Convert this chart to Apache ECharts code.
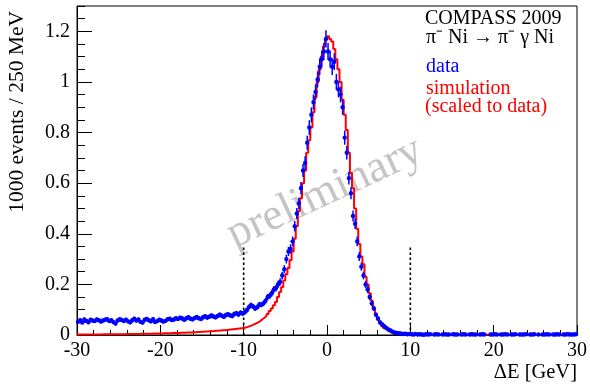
<!DOCTYPE html>
<html>
<head>
<meta charset="utf-8">
<script src="https://cdn.jsdelivr.net/npm/echarts@6/dist/echarts.min.js"></script>
<style>
html,body{margin:0;padding:0;background:#fff;}
#chart{width:590px;height:384px;}
</style>
</head>
<body>
<div id="chart"></div>
<script>
// ---- data (bins of 250 MeV from -30 to 30 GeV) ----
const xStart = -30;
const binWidth = 0.25;
const xTickLabels = [-30, -20, -10, 0, 10, 20, 30];
const yTickLabels = [0, 0.2, 0.4, 0.6, 0.8, 1, 1.2];

const dataValues = [
  0.052, 0.058, 0.049, 0.061, 0.056, 0.050, 0.060, 0.057,
  0.055, 0.061, 0.058, 0.053, 0.057, 0.060, 0.062, 0.055,
  0.058, 0.051, 0.045, 0.057, 0.062, 0.059, 0.055, 0.060,
  0.054, 0.050, 0.058, 0.064, 0.057, 0.061, 0.052, 0.049,
  0.060, 0.063, 0.058, 0.054, 0.062, 0.051, 0.055, 0.060,
  0.057, 0.053, 0.056, 0.062, 0.064, 0.059, 0.061, 0.066,
  0.063, 0.068, 0.065, 0.060, 0.066, 0.070, 0.064, 0.062,
  0.067, 0.071, 0.066, 0.063, 0.070, 0.074, 0.069, 0.072,
  0.077, 0.073, 0.070, 0.075, 0.080, 0.076, 0.072, 0.079,
  0.082, 0.078, 0.075, 0.083, 0.086, 0.081, 0.088, 0.085,
  0.090, 0.098, 0.110, 0.118, 0.113, 0.105, 0.110, 0.120,
  0.120, 0.125, 0.135, 0.150, 0.155, 0.165, 0.180, 0.185,
  0.200, 0.210, 0.235, 0.260, 0.300, 0.330, 0.340, 0.370,
  0.430, 0.480, 0.520, 0.580, 0.650, 0.680, 0.760, 0.820,
  0.870, 0.920, 0.960, 1.010, 1.060, 1.090, 1.120, 1.170,
  1.120, 1.090, 1.060, 1.080, 1.000, 0.970, 0.950, 0.900,
  0.780, 0.720, 0.620, 0.560, 0.470, 0.440, 0.370, 0.310,
  0.270, 0.235, 0.200, 0.180, 0.150, 0.125, 0.105, 0.080,
  0.065, 0.050, 0.042, 0.035, 0.028, 0.022, 0.018, 0.013,
  0.010, 0.008, 0.007, 0.006, 0.004, 0.005, 0.003, 0.004,
  0.003, 0.002, 0.004, 0.002, 0.003, 0.002, 0.001, 0.003,
  0.002, 0.003, null, 0.002, 0.003, 0.002, null, 0.002,
  0.003, 0.002, 0.002, null, 0.003, 0.002, 0.002, null,
  0.002, 0.003, 0.002, null, 0.002, 0.003, 0.002, 0.002,
  null, 0.002, 0.003, 0.002, null, null, 0.002, 0.002,
  0.003, 0.002, null, 0.002, 0.002, 0.003, 0.002, null,
  0.002, 0.002, 0.003, null, 0.002, 0.002, 0.002, 0.003,
  null, 0.002, 0.002, 0.003, null, 0.002, null, 0.002,
  0.002, 0.003, 0.002, null, 0.002, 0.002, 0.003, 0.002,
  null, 0.002, 0.002, 0.003, 0.002, 0.002, 0.002, 0.003
];

const simValues = [
  0.002, 0.002, 0.002, 0.002, 0.002, 0.002, 0.002, 0.002,
  0.002, 0.002, 0.002, 0.002, 0.003, 0.003, 0.003, 0.003,
  0.003, 0.003, 0.003, 0.003, 0.003, 0.003, 0.003, 0.004,
  0.004, 0.004, 0.004, 0.004, 0.004, 0.004, 0.005, 0.005,
  0.005, 0.005, 0.005, 0.005, 0.006, 0.006, 0.006, 0.006,
  0.006, 0.007, 0.007, 0.007, 0.007, 0.008, 0.008, 0.008,
  0.008, 0.009, 0.009, 0.009, 0.010, 0.010, 0.010, 0.011,
  0.011, 0.012, 0.012, 0.013, 0.013, 0.014, 0.014, 0.015,
  0.015, 0.016, 0.017, 0.017, 0.018, 0.019, 0.019, 0.020,
  0.021, 0.022, 0.023, 0.024, 0.025, 0.026, 0.027, 0.028,
  0.030, 0.032, 0.035, 0.038, 0.042, 0.046, 0.050, 0.055,
  0.062, 0.068, 0.075, 0.083, 0.095, 0.105, 0.118, 0.130,
  0.150, 0.170, 0.190, 0.215, 0.240, 0.265, 0.295, 0.330,
  0.380, 0.430, 0.490, 0.540, 0.600, 0.650, 0.720, 0.770,
  0.820, 0.880, 0.940, 1.000, 1.050, 1.100, 1.140, 1.170,
  1.180, 1.170, 1.160, 1.130, 1.090, 1.050, 1.000, 0.930,
  0.870, 0.810, 0.720, 0.640, 0.580, 0.500, 0.420, 0.360,
  0.310, 0.280, 0.230, 0.200, 0.165, 0.135, 0.105, 0.080,
  0.060, 0.045, 0.035, 0.027, 0.020, 0.015, 0.011, 0.008,
  0.006, 0.005, 0.004, 0.003, 0.002, 0.002, 0.001, 0.001,
  0.001, 0.001, 0.001, 0.001, 0.001, 0.001, 0.001, 0.001,
  0.001, 0.001, 0.001, 0.001, 0.001, 0.001, 0.001, 0.001,
  0.001, 0.001, 0.001, 0.001, 0.001, 0.001, 0.001, 0.001,
  0.001, 0.001, 0.001, 0.001, 0.001, 0.001, 0.001, 0.001,
  0.001, 0.001, 0.001, 0.001, 0.001, 0.001, 0.001, 0.001,
  0.001, 0.001, 0.001, 0.001, 0.001, 0.001, 0.001, 0.001,
  0.001, 0.001, 0.001, 0.001, 0.001, 0.001, 0.001, 0.001,
  0.001, 0.001, 0.001, 0.001, 0.001, 0.001, 0.001, 0.001,
  0.001, 0.001, 0.001, 0.001, 0.001, 0.001, 0.001, 0.001,
  0.001, 0.001, 0.001, 0.001, 0.001, 0.001, 0.001, 0.001
];

const cutPositions = [-10, 10];
const cutHeight = 0.355;
const eventsPerUnit = 1000; // y axis is in units of 1000 events

// ---- build series data ----
const dataPoints = [];
dataValues.forEach((v, i) => {
  if (v === null) return;
  const x = xStart + binWidth * (i + 0.5);
  const err = Math.sqrt(v * eventsPerUnit) / eventsPerUnit;
  dataPoints.push([x, v, err]);
});
const simLine = simValues.map((v, i) => [xStart + binWidth * i, v]);
simLine.push([xStart + binWidth * simValues.length, simValues[simValues.length - 1]]);

const FONT = '"Liberation Serif", "Times New Roman", serif';
const chart = echarts.init(document.getElementById('chart'), null, {renderer: 'canvas'});

const cutSeries = cutPositions.map(p => ({
  type: 'line',
  data: [[p, 0], [p, cutHeight]],
  symbol: 'none',
  silent: true,
  lineStyle: {color: '#000', width: 1.6, type: [2.5, 2.5]},
  z: 1
}));

chart.setOption({
  animation: false,
  backgroundColor: '#fff',
  grid: {left: 77, right: 13, top: 6, bottom: 49, show: true, borderColor: '#000', borderWidth: 1, outerBoundsMode: 'none', containLabel: false},
  xAxis: [{
    type: 'value', min: xTickLabels[0], max: xTickLabels[xTickLabels.length - 1], interval: 10,
    axisLine: {show: true, onZero: false, lineStyle: {color: '#000', width: 1}},
    axisTick: {show: true, inside: true, length: 10, lineStyle: {color: '#000'}},
    minorTick: {show: true, splitNumber: 5, length: 5, lineStyle: {color: '#000'}},
    axisLabel: {show: true, color: '#000', fontFamily: FONT, fontSize: 20, margin: 6,
      formatter: v => xTickLabels.indexOf(v) >= 0 ? String(v) : ''},
    splitLine: {show: false}
  }],
  yAxis: [{
    type: 'value', min: 0, max: 1.3, interval: 0.2,
    axisLine: {show: true, onZero: false, lineStyle: {color: '#000', width: 1}},
    axisTick: {show: true, inside: true, length: 15, lineStyle: {color: '#000'}},
    axisLabel: {show: true, color: '#000', fontFamily: FONT, fontSize: 20, margin: 7, showMaxLabel: false,
      formatter: v => {
        const m = yTickLabels.find(t => Math.abs(t - v) < 1e-9);
        return m === undefined ? '' : String(m);
      }},
    splitLine: {show: false}
  }, {
    type: 'value', min: 0, max: 1.3, interval: 0.05, position: 'left',
    axisLine: {show: false, onZero: false},
    axisTick: {show: true, inside: true, length: 8, lineStyle: {color: '#000'}},
    axisLabel: {show: false},
    splitLine: {show: false}
  }],
  graphic: [
    {type: 'text', x: 325, y: 193, rotation: 25 * Math.PI / 180, silent: true, z: 0,
      style: {text: 'preliminary', x: 0, y: 0, align: 'center', verticalAlign: 'middle',
        font: '45px ' + FONT, fill: '#c4c4c4'}},
    {type: 'text', x: 17, y: 11, rotation: Math.PI / 2, silent: true,
      style: {text: '1000 events / 250 MeV', x: 0, y: 0, align: 'right', verticalAlign: 'middle',
        font: '21.5px ' + FONT, fill: '#000'}},
    {type: 'text', x: 577, y: 373, silent: true,
      style: {text: 'ΔE [GeV]', align: 'right', verticalAlign: 'middle', font: '20.5px ' + FONT, fill: '#000'}},
    {type: 'text', x: 425, y: 19, silent: true,
      style: {text: 'COMPASS 2009', align: 'left', verticalAlign: 'middle', font: '20px ' + FONT, fill: '#000'}},
    {type: 'text', x: 426, y: 38, silent: true,
      style: {text: 'π⁻ Ni → π⁻ γ Ni', align: 'left', verticalAlign: 'middle', font: '20px ' + FONT, fill: '#000'}},
    {type: 'text', x: 426, y: 67, silent: true,
      style: {text: 'data', align: 'left', verticalAlign: 'middle', font: '20px ' + FONT, fill: '#0000ff'}},
    {type: 'text', x: 426, y: 89, silent: true,
      style: {text: 'simulation', align: 'left', verticalAlign: 'middle', font: '20px ' + FONT, fill: '#ff0000'}},
    {type: 'text', x: 425, y: 107, silent: true,
      style: {text: '(scaled to data)', align: 'left', verticalAlign: 'middle', font: '20px ' + FONT, fill: '#ff0000'}}
  ],
  series: [
    {
      name: 'simulation', type: 'line', step: 'end', data: simLine, symbol: 'none',
      lineStyle: {color: '#ff0000', width: 2}, z: 2, silent: true
    },
    ...cutSeries,
    {
      name: 'data', type: 'custom', data: dataPoints, z: 3, silent: true,
      encode: {x: 0, y: 1},
      renderItem: (params, api) => {
        const x = api.value(0), y = api.value(1), e = api.value(2);
        const c = api.coord([x, y]);
        const top = api.coord([x, y + e]);
        const bot = api.coord([x, Math.max(0, y - e)]);
        const l = api.coord([x - binWidth / 2, y]);
        const r = api.coord([x + binWidth / 2, y]);
        return {type: 'group', children: [
          {type: 'line', shape: {x1: c[0], y1: top[1], x2: c[0], y2: bot[1]}, style: {stroke: '#0000ff', lineWidth: 1.5}},
          {type: 'line', shape: {x1: l[0], y1: c[1], x2: r[0], y2: c[1]}, style: {stroke: '#0000ff', lineWidth: 1.5}},
          {type: 'circle', shape: {cx: c[0], cy: c[1], r: 2.2}, style: {fill: '#0000ff'}}
        ]};
      }
    }
  ]
});
</script>
</body>
</html>
